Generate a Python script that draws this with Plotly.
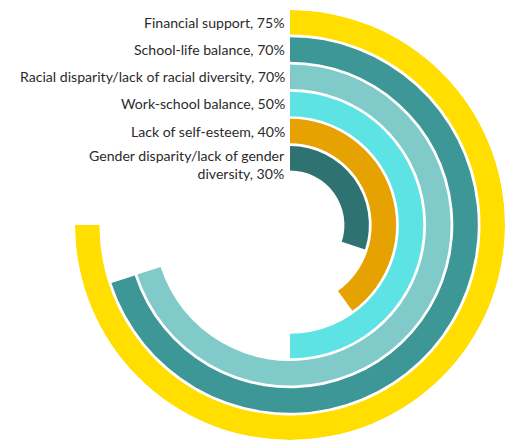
import plotly.graph_objects as go

# Survey items, ordered from the outermost ring to the innermost
labels = [
    "Financial support",
    "School-life balance",
    "Racial disparity/lack of racial diversity",
    "Work-school balance",
    "Lack of self-esteem",
    "Gender disparity/lack of gender<br>diversity",
]
values = [75, 70, 70, 50, 40, 30]
colors = ["#FFDE00", "#3D9797", "#80CBC9", "#5DE3E3", "#E6A200", "#2E7371"]

W, H = 510, 440
CX, CY, RPX = 290, 225, 215          # circle centre and radius in pixels
RMAX = 7.9                           # radial axis range
INNER = 2                            # radius of the empty hole (radial units)
BAND = 0.9                           # ring thickness (radial units)
pitch = RPX / RMAX

n = len(values)
fig = go.Figure()
for i, (lab, v, c) in enumerate(zip(labels, values, colors)):
    base = INNER + (n - 1 - i)
    fig.add_trace(go.Barpolar(
        r=[BAND], base=[base],
        theta=[v * 3.6 / 2], width=[v * 3.6],
        marker=dict(color=c, line=dict(width=0)),
        hovertemplate=f"{lab.replace('<br>', ' ')}: {v}%<extra></extra>",
        showlegend=False,
    ))
    ypx = CY - (base + BAND / 2) * pitch
    wrapped = "<br>" in lab
    fig.add_annotation(
        x=(CX - 4) / W, y=1 - (ypx + (6 if wrapped else 0)) / H,
        xref="paper", yref="paper",
        xanchor="right", yanchor="middle", borderpad=0,
        text=f"{lab}, {v}%", showarrow=False, align="right",
        font=dict(family="Lato, 'Open Sans', sans-serif", size=14.1, color="#2b2b2b"),
    )

fig.update_layout(
    width=W, height=H,
    margin=dict(l=0, r=0, t=0, b=0),
    paper_bgcolor="white", plot_bgcolor="white",
    polar=dict(
        domain=dict(x=[(CX - RPX) / W, (CX + RPX) / W],
                    y=[1 - (CY + RPX) / H, 1 - (CY - RPX) / H]),
        bgcolor="white",
        radialaxis=dict(range=[0, RMAX], visible=False, showgrid=False),
        angularaxis=dict(rotation=90, direction="clockwise", visible=False,
                         showgrid=False, showline=False, ticks=""),
        bargap=0,
    ),
)

fig.write_html("out.html")
